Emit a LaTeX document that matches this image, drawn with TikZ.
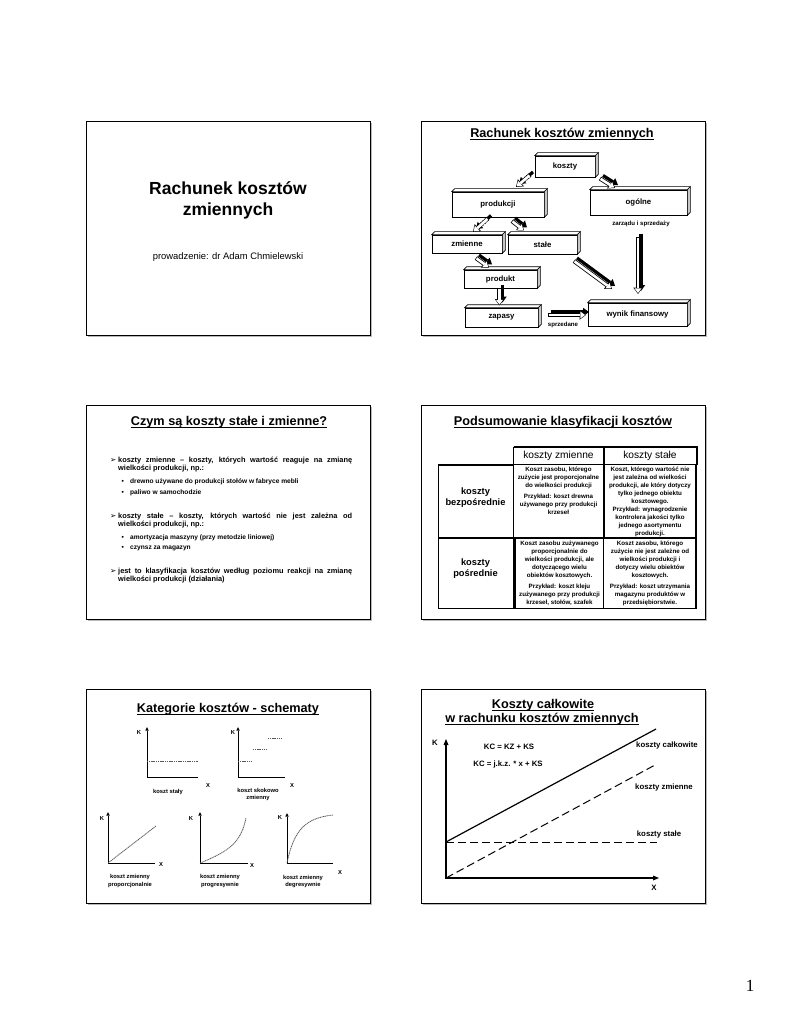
\documentclass[tikz,border=0pt]{standalone}
\usepackage{fontspec}
\setmainfont{Liberation Sans}
\newfontfamily\dingfont{DejaVu Sans}
\newfontfamily\pagefont{Liberation Serif}
\usetikzlibrary{arrows.meta}

\begin{document}
\begin{tikzpicture}[x=1pt,y=-1pt]
            %
            % `slide' is the frame of one slide, `shade' its grey edge.
            % `title' is used for the underlined headings.
            % `box' is used for the boxes of the cost scheme.
            % `arrback', `arrfront' and `arrinner' make the 3-d arrows.
            % `cell' is used for the texts in the table.
            \tikzstyle{slide} = [draw,fill=white,line width=0.9pt,minimum width=284pt,minimum height=214pt,anchor=north west,inner sep=0pt]
            \tikzstyle{shade} = [fill=gray!55]
            \tikzstyle{title} = [font=\bfseries\fontsize{12.7}{15}\selectfont,inner sep=0pt,anchor=base]
            \tikzstyle{uline} = [line width=0.8pt]
            \tikzstyle{box} = [draw,fill=white,line width=0.6pt,inner sep=0pt,font=\bfseries\fontsize{7.8}{9}\selectfont]
            \tikzstyle{small} = [inner sep=0pt,font=\bfseries\fontsize{6.1}{7}\selectfont]
            \tikzstyle{arrback} = [line width=3.2pt,-{Triangle[length=6pt,width=8.5pt,line width=0pt]}]
            \tikzstyle{arrfront} = [line width=4.2pt,-{Triangle[length=6.5pt,width=9.5pt,line width=0pt]}]
            \tikzstyle{arrinner} = [white,line width=2.6pt,shorten >=1pt,shorten <=0.7pt,-{Triangle[length=4.6pt,width=7pt,line width=0pt]}]
            \tikzstyle{bul} = [anchor=north west,inner sep=0pt,text width=234pt,align=justify,font=\bfseries\fontsize{7.4}{8.8}\selectfont]
            \tikzstyle{sub} = [anchor=west,inner sep=0pt,font=\bfseries\fontsize{6.6}{8}\selectfont]
            \tikzstyle{hcell} = [inner sep=0pt,font=\fontsize{10.2}{12}\selectfont]
            \tikzstyle{rlabel} = [inner sep=0pt,align=center,font=\bfseries\fontsize{9.3}{11}\selectfont]
            \tikzstyle{cell} = [anchor=north,inner sep=1pt,align=center,font=\bfseries\fontsize{6.2}{8}\selectfont]
            \tikzstyle{grid} = [line width=0.6pt]
            \tikzstyle{heavy} = [line width=2pt]
            \tikzstyle{axis} = [line width=0.8pt,{Triangle[length=3.5pt,width=3.5pt,line width=0pt]}-]
            \tikzstyle{graph} = [line width=0.8pt,black!65,dash pattern=on 1.2pt off 0.6pt]
            \tikzstyle{lab} = [inner sep=0pt,align=center,font=\bfseries\fontsize{5.8}{7.5}\selectfont]
            \tikzstyle{bigaxis} = [line width=1.2pt,{Triangle[length=6pt,width=5pt,line width=0pt]}-{Triangle[length=6pt,width=5pt,line width=0pt]}]
            \tikzstyle{cdash} = [line width=1pt,dash pattern=on 8pt off 4pt]
            \tikzstyle{note} = [inner sep=0pt,font=\bfseries\fontsize{7.8}{9}\selectfont]
            %
            % Page
            \fill[white] (0,0) rectangle (791,1024);
            \useasboundingbox (0,0) rectangle (791,1024);
            \foreach \n/\sx/\sy in {s1/85.7/121,s2/421/121,s3/85.7/405,s4/421/405,s5/85.7/689,s6/421/689} {
                \fill[shade] (\sx+1.8,\sy+1.8) rectangle ++(284,214);
                \node[slide] (\n) at (\sx,\sy) {};
            }
            \node[font=\pagefont\fontsize{17}{20}\selectfont,anchor=base,inner sep=0pt] (pagenum) at (750,991) {1};
            %
            % Slide 1
            \node[font=\bfseries\fontsize{17.5}{21}\selectfont,align=center,inner sep=0pt] (t1) at (228,200.5) {Rachunek kosztów\\zmiennych};
            \node[font=\fontsize{9.4}{11}\selectfont,inner sep=0pt] (t1sub) at (228,257.5) {prowadzenie: dr Adam Chmielewski};
            %
            % Slide 2
            \node[title] (t2) at (562,137.5) {Rachunek kosztów zmiennych};
            \node[box,minimum width=60pt,minimum height=21pt] (koszty) at (565,166.5) {koszty};
            \node[box,minimum width=92pt,minimum height=25pt] (produkcji) at (498,204.5) {produkcji};
            \node[box,minimum width=97pt,minimum height=25pt] (ogolne) at (638.5,202.5) {ogólne};
            \node[box,minimum width=70pt,minimum height=18pt] (zmienne) at (467,244) {zmienne};
            \node[box,minimum width=69pt,minimum height=19pt] (stale) at (542.5,244.5) {stałe};
            \node[box,minimum width=73pt,minimum height=18pt] (produkt) at (500.5,279) {produkt};
            \node[box,minimum width=73pt,minimum height=19pt] (zapasy) at (501.5,317.5) {zapasy};
            \node[box,minimum width=99pt,minimum height=23pt] (wynik) at (637.5,314.5) {wynik finansowy};
            \foreach \b in {koszty,produkcji,ogolne,zmienne,stale,produkt,zapasy,wynik} {
                \draw[line width=0.6pt,fill=white] (\b.north west) -- ++(3,-3) -- ([shift={(3,-3)}]\b.north east) -- (\b.north east) -- cycle;
                \draw[line width=0.6pt,fill=gray!45] (\b.north east) -- ++(3,-3) -- ([shift={(3,-3)}]\b.south east) -- (\b.south east) -- cycle;
            }
            \node[small] (zarzadu) at (641,224) {zarządu i sprzedaży};
            \node[small] (sprzedane) at (563,324.5) {sprzedane};
            %
            % Arrows of slide 2
            \coordinate (a1s) at (530,175);   \coordinate (a1e) at (516,187);
            \coordinate (a2s) at (600,178.5); \coordinate (a2e) at (615,188);
            \coordinate (a3s) at (488,218.5); \coordinate (a3e) at (473,232);
            \coordinate (a4s) at (512,221);   \coordinate (a4e) at (524,230.5);
            \coordinate (a5s) at (476,258);   \coordinate (a5e) at (489,267.5);
            \coordinate (a6s) at (574,261);   \coordinate (a6e) at (612,289);
            \coordinate (a7s) at (638,237);   \coordinate (a7e) at (638,294);
            \coordinate (a8s) at (499.5,288); \coordinate (a8e) at (499.5,305.5);
            \coordinate (a9s) at (548,315);   \coordinate (a9e) at (586,315);
            \foreach \s/\e in {a1s/a1e,a3s/a3e} {
                \draw[arrback] ([shift={(3,-3)}]\s) -- ([shift={(3,-3)}]\e);
                \draw[arrfront,dash pattern=on 1.4pt off 1pt] (\s) -- (\e);
                \draw[arrinner] (\s) -- (\e);
            }
            \foreach \s/\e in {a2s/a2e,a4s/a4e,a5s/a5e,a6s/a6e,a7s/a7e,a8s/a8e,a9s/a9e} {
                \draw[arrback] ([shift={(3,-3)}]\s) -- ([shift={(3,-3)}]\e);
                \draw[arrfront] (\s) -- (\e);
                \draw[arrinner] (\s) -- (\e);
            }
            %
            % Slide 3
            \node[title] (t3) at (229,425.5) {Czym są koszty stałe i zmienne?};
            \node[bul] (b1) at (118,456.5) {koszty zmienne – koszty, których wartość reaguje na zmianę\linebreak wielkości produkcji, np.:};
            \node[bul] (b2) at (118,512.5) {koszty stałe – koszty, których wartość nie jest zależna od\linebreak wielkości produkcji, np.:};
            \node[bul] (b3) at (118,567.5) {jest to klasyfikacja kosztów według poziomu reakcji na zmianę\linebreak wielkości produkcji (działania)};
            \foreach \b in {b1,b2,b3}
                \node[font=\dingfont\fontsize{7.5}{8}\selectfont,inner sep=0pt,anchor=east] (\b mark) at ([xshift=-1.5pt,yshift=-4.2pt]\b.north west) {➢};
            \foreach \n/\y/\t in {d1/482/drewno używane do produkcji stołów w fabryce mebli,d2/493/paliwo w samochodzie,d3/538/amortyzacja maszyny (przy metodzie liniowej),d4/548/czynsz za magazyn} {
                \node[sub] (\n) at (130,\y) {\t};
                \node[sub] (\n dot) at (121.5,\y) {•};
            }
            %
            % Slide 4
            \node[title] (t4) at (563,425.5) {Podsumowanie klasyfikacji kosztów};
            \draw[grid] (438,464.5) rectangle (696,608);
            \draw[grid] (513.5,447) -- (696,447) -- (696,464.5) -- (513.5,464.5) -- cycle;
            \draw[grid] (513.5,464.5) -- (513.5,608) (603.5,447) -- (603.5,608) (438,538) -- (696,538);
            \draw[heavy] (513.5,447) -- (697,447) -- (697,464.5);
            \draw[heavy] (603.5,447) -- (603.5,464.5);
            \draw[heavy] (438,464.5) -- (513.5,464.5);
            \draw[heavy] (603.5,464.5) -- (603.5,538) -- (696,538);
            \draw[heavy] (696,464.5) -- (696,608.5);
            \draw[heavy] (438,538) -- (603.5,538);
            \draw[heavy] (515,538) -- (515,608);
            \node[hcell] (hz) at (558.5,456) {koszty zmienne};
            \node[hcell] (hs) at (650,456) {koszty stałe};
            \node[rlabel] (rb) at (475.5,498) {koszty\\bezpośrednie};
            \node[rlabel] (rp) at (475.5,569) {koszty\\pośrednie};
            \node[cell] (c11) at (558.5,465.5) {Koszt zasobu, którego\\zużycie jest proporcjonalne\\do wielkości produkcji\\[3pt]Przykład: koszt drewna\\używanego przy produkcji\\krzeseł};
            \node[cell] (c12) at (650,465.5) {Koszt, którego wartość nie\\jest zależna od wielkości\\produkcji, ale który dotyczy\\tylko jednego obiektu\\kosztowego.\\Przykład: wynagrodzenie\\kontrolera jakości tylko\\jednego asortymentu\\produkcji.};
            \node[cell] (c21) at (559.5,539.5) {Koszt zasobu zużywanego\\proporcjonalnie do\\wielkości produkcji, ale\\dotyczącego wielu\\obiektów kosztowych.\\[3pt]Przykład: koszt kleju\\zużywanego przy produkcji\\krzeseł, stołów, szafek};
            \node[cell] (c22) at (650,539.5) {Koszt zasobu, którego\\zużycie nie jest zależne od\\wielkości produkcji i\\dotyczy wielu obiektów\\kosztowych.\\[3pt]Przykład: koszt utrzymania\\magazynu produktów w\\przedsiębiorstwie.};
            %
            % Slide 5
            \node[title] (t5) at (228,712.5) {Kategorie kosztów - schematy};
            \draw[axis] (147,727) -- (147,777) -- (198,777);
            \draw[graph] (147,761) -- (198,761);
            \draw[axis] (238,727) -- (238,777) -- (285,777);
            \draw[graph] (238,761) -- (252,761) (253,749) -- (267,749) (268,738) -- (282,738);
            \draw[axis] (108,812) -- (108,863) -- (155,863);
            \draw[graph] (108,863) -- (156,826);
            \draw[axis] (200,812) -- (200,863) -- (248,863);
            \draw[graph] (200,863) .. controls (230,851) and (241,842) .. (246,818);
            \draw[axis] (287,813) -- (287,863) -- (333,863);
            \draw[graph] (287,863) .. controls (294,829) and (306,818) .. (333,815);
            \node[lab] (kA) at (139,732) {K};  \node[lab] (xA) at (208,785) {X};
            \node[lab] (kB) at (233,732) {K};  \node[lab] (xB) at (292,785) {X};
            \node[lab] (kC) at (102,818) {K};  \node[lab] (xC) at (161,864) {X};
            \node[lab] (kD) at (191,818) {K};  \node[lab] (xD) at (252,865) {X};
            \node[lab] (kE) at (280,817) {K};  \node[lab] (xE) at (340,872.5) {X};
            \node[lab] (lA) at (168,792) {koszt stały};
            \node[lab] (lB) at (258,794.5) {koszt skokowo\\zmienny};
            \node[lab] (lC) at (130,881) {koszt zmienny\\proporcjonalnie};
            \node[lab] (lD) at (220,881) {koszt zmienny\\progresywnie};
            \node[lab] (lE) at (303,881.5) {koszt zmienny\\degresywnie};
            %
            % Slide 6
            \node[title] (t6a) at (543,708.3) {Koszty całkowite};
            \node[title] (t6b) at (542,722.3) {w rachunku kosztów zmiennych};
            \draw[bigaxis] (446,739) -- (446,878) -- (659,878);
            \draw[line width=1.2pt] (446,842) -- (656,729);
            \draw[cdash] (446,878) -- (655,765);
            \draw[cdash] (446,842) -- (657,842);
            \node[note] (kax) at (435,743) {K};
            \node[note] (xax) at (654,887.5) {X};
            \node[note] (f1) at (509,747) {KC = KZ + KS};
            \node[note] (f2) at (508,764) {KC = j.k.z. * x + KS};
            \node[note] (ncal) at (667,745) {koszty całkowite};
            \node[note] (nzm) at (664,787) {koszty zmienne};
            \node[note] (nst) at (659,834) {koszty stałe};
            %
            % Underlines of the headings
            \foreach \t in {t2,t3,t4,t5,t6a,t6b}
                \draw[uline] ([yshift=-1.8pt]\t.base west) -- ([yshift=-1.8pt]\t.base east);
        \end{tikzpicture}
\end{document}
